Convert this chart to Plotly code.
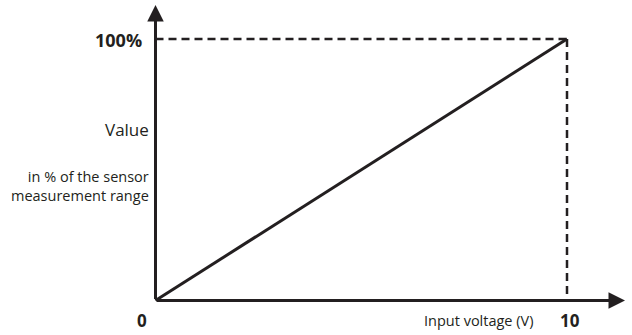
# Analog input characteristic: value (% of sensor range) vs input voltage
import plotly.graph_objects as go

voltage = [0, 10]          # V
value_pct = [0, 100]       # % of measurement range
x_tick_labels = ["0", "10"]
y_tick_label = "100%"
x_title = "Input voltage (V)"
y_title = "Value"
y_subtitle = "in % of the sensor<br>measurement range"

W, H = 632, 335
L, R, T, B = 145, 45, 25, 25
INK = "#231f20"
FONT = "Open Sans"

# where the origin and the full-scale point should land (pixels)
X0, X1 = 155.5, 567.0
Y0, Y1 = 300.5, 39.0
sx = (X1 - X0) / (voltage[1] - voltage[0])
sy = (Y0 - Y1) / (value_pct[1] - value_pct[0])
x_range = [voltage[0] - (X0 - L) / sx, voltage[0] + (W - R - X0) / sx]
y_range = [value_pct[0] - (H - B - Y0) / sy, value_pct[0] + (Y0 - T) / sy]


def px(x):
    # pixel x -> paper x
    return (x - L) / (W - L - R)


def py(y):
    # pixel y (from top) -> paper y
    return (H - B - y) / (H - T - B)


fig = go.Figure()

# dashed guides at full scale
fig.add_trace(go.Scatter(x=[voltage[0], voltage[1]], y=[value_pct[1], value_pct[1]],
                         mode="lines", line=dict(color=INK, width=2.5, dash="8px,5px"),
                         hoverinfo="skip"))
fig.add_trace(go.Scatter(x=[voltage[1], voltage[1]], y=[value_pct[1], value_pct[0]],
                         mode="lines", line=dict(color=INK, width=2.5, dash="8px,5px"),
                         hoverinfo="skip"))
# characteristic line
fig.add_trace(go.Scatter(x=voltage, y=value_pct, mode="lines",
                         line=dict(color=INK, width=3)))

annotations = [
    # y axis with arrow
    dict(xref="paper", yref="paper", x=px(X0), y=py(5), text="", showarrow=True,
         ax=0, ay=Y0 - 5, axref="pixel", ayref="pixel",
         arrowhead=2, arrowsize=1.1, arrowwidth=3, arrowcolor=INK, standoff=0),
    # x axis with arrow
    dict(xref="paper", yref="paper", x=px(625), y=py(Y0), text="", showarrow=True,
         ax=-(625 - X0), ay=0, arrowhead=2, arrowsize=1.1, arrowwidth=3,
         arrowcolor=INK, standoff=0),
    dict(xref="paper", yref="y", x=px(X0), y=value_pct[1], text="<b>%s</b>" % y_tick_label,
         showarrow=False, xanchor="right", yanchor="middle", xshift=-12, yshift=-1,
         font=dict(family=FONT, size=18, color=INK)),
    dict(xref="paper", yref="paper", x=px(X0), y=py(129), text=y_title, showarrow=False,
         xanchor="right", yanchor="middle", xshift=-5,
         font=dict(family=FONT, size=17, color=INK)),
    dict(xref="paper", yref="paper", x=px(X0), y=py(186), text=y_subtitle, showarrow=False,
         xanchor="right", yanchor="middle", align="right", xshift=-5,
         font=dict(family=FONT, size=14.5, color=INK)),
    dict(xref="x", yref="paper", x=voltage[0], y=py(321), text="<b>%s</b>" % x_tick_labels[0],
         showarrow=False, xanchor="center", yanchor="middle", xshift=-14,
         font=dict(family=FONT, size=17, color=INK)),
    dict(xref="x", yref="paper", x=voltage[1], y=py(321), text="<b>%s</b>" % x_tick_labels[1],
         showarrow=False, xanchor="center", yanchor="middle", xshift=3,
         font=dict(family=FONT, size=17, color=INK)),
    dict(xref="paper", yref="paper", x=px(478), y=py(320), text=x_title, showarrow=False,
         xanchor="center", yanchor="middle",
         font=dict(family=FONT, size=14.5, color=INK)),
]

fig.update_layout(
    width=W, height=H,
    margin=dict(l=L, r=R, t=T, b=B, pad=0),
    paper_bgcolor="white", plot_bgcolor="white",
    showlegend=False,
    annotations=annotations,
)
fig.update_xaxes(range=x_range, visible=False, fixedrange=True)
fig.update_yaxes(range=y_range, visible=False, fixedrange=True)

# page body has a default margin, drop it so the figure sits at (0, 0)
fig.write_html("out.html", config={"displayModeBar": False},
               post_script="document.body.style.margin='0';document.body.style.overflow='hidden';")
